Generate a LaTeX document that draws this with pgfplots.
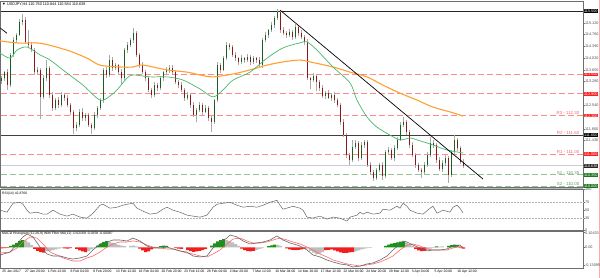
\documentclass[border=0pt]{standalone}
\usepackage{pgfplots}
\pgfplotsset{compat=1.18}
\usepackage{pgfplotstable}
\usepackage{fontspec}
\setmainfont{Liberation Sans}
\definecolor{bullc}{RGB}{25,95,35}
\definecolor{bearc}{RGB}{135,25,25}
\definecolor{wickc}{RGB}{170,170,170}
\definecolor{maA}{RGB}{70,185,110}
\definecolor{maB}{RGB}{255,160,50}
\definecolor{lred}{RGB}{255,140,140}
\definecolor{lgreen}{RGB}{150,195,150}
\definecolor{tred}{RGB}{245,105,105}
\definecolor{tgreen}{RGB}{95,160,95}
\definecolor{lblred}{RGB}{250,30,30}
\definecolor{lblgreen}{RGB}{25,120,25}
\definecolor{curc}{RGB}{200,205,215}
\definecolor{framec}{RGB}{110,110,110}
\definecolor{hgreen}{RGB}{20,150,20}
\definecolor{hred}{RGB}{240,30,30}
\definecolor{hgray}{RGB}{190,190,190}
\newcommand\fa{\fontsize{3.8}{4}\selectfont}
\newcommand\fd{\fontsize{3.4}{4}\selectfont}
\newcommand\fr{\fontsize{4.4}{5}\selectfont}

\pgfplotstableread{
x o h l c
1.5 113.30 113.47 113.22 113.39
4.5 113.39 113.63 113.30 113.58
7.5 113.58 113.68 113.02 113.17
10.5 113.17 114.18 113.10 114.12
13.5 114.12 114.67 114.06 114.59
16.5 114.59 114.80 114.50 114.75
19.5 114.75 115.25 114.70 115.15
22.5 115.15 115.40 115.05 115.22
25.5 115.22 115.30 114.47 114.53
28.5 114.53 114.90 114.34 114.43
31.5 114.43 114.53 114.22 114.27
34.5 114.27 114.33 113.48 113.58
37.5 113.58 113.73 113.52 113.65
40.5 113.65 113.70 112.10 112.80
43.5 112.80 113.49 112.74 113.39
46.5 113.39 113.96 113.30 113.71
49.5 113.71 113.77 112.76 112.86
52.5 112.86 112.94 112.36 112.45
55.5 112.45 112.78 112.38 112.70
58.5 112.70 112.80 112.45 112.55
61.5 112.55 112.96 112.49 112.86
64.5 112.86 112.93 112.68 112.77
67.5 112.77 112.85 112.49 112.55
70.5 112.55 112.61 112.23 112.33
73.5 112.33 112.40 111.64 111.82
76.5 111.82 112.02 111.73 111.92
79.5 111.92 112.41 111.86 112.33
82.5 112.33 112.44 112.05 112.14
85.5 112.14 112.29 112.04 112.23
88.5 112.23 112.31 111.86 111.92
91.5 111.92 111.97 111.64 111.82
94.5 111.82 112.33 111.76 112.23
97.5 112.23 112.51 112.14 112.45
100.5 112.45 112.78 112.40 112.70
103.5 112.70 113.70 112.61 113.65
106.5 113.65 113.75 113.39 113.49
109.5 113.49 114.12 113.43 113.96
112.5 113.96 114.04 113.62 113.71
115.5 113.71 113.88 113.65 113.80
118.5 113.80 113.85 113.49 113.58
121.5 113.58 113.68 113.20 113.39
124.5 113.39 114.33 113.33 114.27
127.5 114.27 114.53 114.18 114.43
130.5 114.43 114.65 114.38 114.59
133.5 114.59 114.96 114.50 114.81
136.5 114.81 114.87 114.06 114.12
139.5 114.12 114.17 113.71 113.80
142.5 113.80 113.90 113.53 113.58
145.5 113.58 113.64 113.29 113.39
148.5 113.39 113.47 112.96 113.02
151.5 113.02 113.07 112.77 112.86
154.5 112.86 113.27 112.81 113.17
157.5 113.17 113.23 112.98 113.08
160.5 113.08 113.47 113.02 113.39
163.5 113.39 113.63 113.30 113.58
166.5 113.58 113.75 113.53 113.65
169.5 113.65 113.80 113.55 113.71
172.5 113.71 113.79 113.49 113.58
175.5 113.58 113.66 113.21 113.27
178.5 113.27 113.32 113.08 113.17
181.5 113.17 113.27 112.97 113.02
184.5 113.02 113.08 112.67 112.77
187.5 112.77 112.94 112.71 112.86
190.5 112.86 112.91 112.46 112.55
193.5 112.55 112.65 112.18 112.23
196.5 112.23 112.45 112.00 112.39
199.5 112.39 112.63 112.33 112.55
202.5 112.55 112.60 112.24 112.33
205.5 112.33 112.55 112.28 112.45
208.5 112.45 112.51 112.04 112.14
211.5 112.14 112.22 111.70 112.01
214.5 112.01 112.75 111.96 112.70
217.5 112.70 113.90 112.64 113.80
220.5 113.80 113.88 113.56 113.65
223.5 113.65 114.08 113.60 114.02
226.5 114.02 114.53 113.96 114.43
229.5 114.43 114.51 114.28 114.37
232.5 114.37 114.42 114.07 114.12
235.5 114.12 114.20 113.92 114.02
238.5 114.02 114.07 113.81 113.90
241.5 113.90 114.12 113.85 114.02
244.5 114.02 114.07 113.87 113.96
247.5 113.96 114.15 113.91 114.05
250.5 114.05 114.11 113.80 113.90
253.5 113.90 114.10 113.84 114.02
256.5 114.02 114.07 113.87 113.96
259.5 113.96 114.06 113.75 113.80
262.5 113.80 114.65 113.70 114.59
265.5 114.59 114.83 114.53 114.75
268.5 114.75 114.95 114.66 114.90
271.5 114.90 115.16 114.85 115.06
274.5 115.06 115.34 114.96 115.28
277.5 115.28 115.56 115.22 115.47
280.5 115.47 115.52 114.81 114.90
283.5 114.90 115.00 114.76 114.81
286.5 114.81 114.87 114.65 114.75
289.5 114.75 114.92 114.69 114.84
292.5 114.84 114.89 114.59 114.68
295.5 114.68 115.10 114.63 115.00
298.5 115.00 115.06 114.71 114.81
301.5 114.81 114.89 114.63 114.68
304.5 114.68 114.74 114.44 114.53
307.5 114.53 114.61 113.33 113.39
310.5 113.39 113.44 113.05 113.33
313.5 113.33 113.56 113.27 113.46
316.5 113.46 113.52 113.00 113.27
319.5 113.27 113.33 112.99 113.08
322.5 113.08 113.18 112.78 112.83
325.5 112.83 112.98 112.73 112.92
328.5 112.92 113.02 112.72 112.77
331.5 112.77 112.92 112.67 112.86
334.5 112.86 112.96 112.61 112.70
337.5 112.70 112.78 112.49 112.55
340.5 112.55 112.60 111.92 112.01
343.5 112.01 112.11 111.55 111.60
346.5 111.60 111.66 110.88 110.97
349.5 110.97 111.05 110.66 110.82
352.5 110.82 111.45 110.77 111.23
355.5 111.23 111.45 111.17 111.35
358.5 111.35 111.41 110.78 110.88
361.5 110.88 111.39 110.83 111.29
364.5 111.29 111.46 111.20 111.38
367.5 111.38 111.44 110.61 110.66
370.5 110.66 110.74 110.35 110.44
373.5 110.44 110.49 110.16 110.25
376.5 110.25 110.58 110.19 110.50
379.5 110.50 110.72 110.44 110.66
382.5 110.66 110.76 110.18 110.31
385.5 110.31 111.12 110.26 111.07
388.5 111.07 111.23 110.98 111.13
391.5 111.13 111.19 110.83 110.88
394.5 110.88 111.30 110.78 111.20
397.5 111.20 111.53 111.14 111.45
400.5 111.45 112.02 111.40 111.92
403.5 111.92 112.17 111.86 112.01
406.5 112.01 112.09 111.61 111.70
409.5 111.70 111.76 111.19 111.29
412.5 111.29 111.37 110.92 110.97
415.5 110.97 111.03 110.56 110.66
418.5 110.66 110.71 110.45 110.50
421.5 110.50 110.58 110.25 110.44
424.5 110.44 110.74 110.38 110.66
427.5 110.66 111.07 110.61 110.97
430.5 110.97 111.54 110.92 111.35
433.5 111.35 111.44 111.20 111.29
436.5 111.29 111.35 110.72 110.82
439.5 110.82 110.90 110.47 110.53
442.5 110.53 110.81 110.45 110.71
445.5 110.71 110.96 110.62 110.88
448.5 110.88 110.93 110.09 110.35
451.5 110.35 111.12 110.29 111.07
454.5 111.07 111.60 111.02 111.45
457.5 111.45 111.50 111.10 111.20
460.5 111.20 111.27 110.70 110.76
463.5 110.76 110.84 110.58 110.64
}\candles

\pgfplotstableread{
x y
0 114.18
10 114.02
17 114.27
27 114.37
40 114.12
50 113.96
67 113.55
83 113.17
100 112.70
110 112.83
117 113.02
127 113.39
133 113.49
150 113.43
167 113.43
183 113.33
200 113.05
213 112.80
223 113.02
233 113.33
250 113.58
267 114.02
283 114.34
300 114.50
307 114.53
317 114.27
333 113.74
350 113.24
357 112.70
367 112.17
377 111.85
390 111.60
400 111.45
410 111.51
417 111.45
433 111.29
447 111.13
463 111.04
}\maAtab

\pgfplotstableread{
x y
0 114.56
20 114.49
40 114.49
67 114.27
87 114.02
100 113.80
120 113.74
133 113.74
143 113.80
167 113.65
187 113.58
200 113.49
213 113.43
233 113.52
250 113.65
267 113.80
283 113.90
300 113.96
310 113.90
333 113.74
350 113.58
367 113.43
383 113.17
400 112.92
417 112.70
433 112.48
450 112.33
463 112.20
}\maBtab

\pgfplotstableread{
x y
0 49.5
7 44.6
13 66.6
20 69.0
23 64.1
27 49.5
30 42.2
37 44.6
43 39.8
47 39.8
53 49.5
60 39.8
67 34.9
73 39.8
80 32.4
87 30.0
93 42.2
100 61.7
103 64.1
110 54.4
117 56.8
123 61.7
127 64.1
133 66.6
137 54.4
143 47.1
150 39.8
157 42.2
163 52.0
167 56.8
173 49.5
180 44.6
187 37.3
193 34.9
200 32.4
207 37.3
213 56.8
217 64.1
223 66.6
230 69.0
237 61.7
243 56.8
250 59.3
257 56.8
263 61.7
270 69.0
277 73.9
280 61.7
283 52.0
290 56.8
293 59.3
300 54.4
303 49.5
307 32.4
313 30.0
320 34.9
327 27.6
333 32.4
340 30.0
347 22.7
350 32.4
357 37.3
360 44.6
363 39.8
367 44.6
373 39.8
380 42.2
383 52.0
390 49.5
397 59.3
400 54.4
403 66.6
407 59.3
410 49.5
417 42.2
423 39.8
430 54.4
433 59.3
437 42.2
443 49.5
450 44.6
453 56.8
457 61.7
460 54.4
463 42.9
}\rsitab

\pgfplotstableread{
x y
0 -0.055
10 -0.034
17 0.024
23 0.074
27 0.095
33 0.074
40 0.002
47 -0.048
53 -0.062
60 -0.062
67 -0.076
73 -0.084
80 -0.076
87 -0.062
93 -0.019
100 0.024
107 0.038
113 0.052
120 0.052
127 0.045
133 0.066
140 0.045
147 0.009
153 -0.005
160 -0.005
167 0.002
173 -0.012
180 -0.026
187 -0.034
193 -0.062
200 -0.069
207 -0.062
213 -0.005
220 0.038
227 0.066
230 0.088
237 0.074
243 0.045
250 0.024
257 0.031
263 0.038
270 0.052
277 0.081
283 0.052
290 0.031
297 0.016
300 0.009
307 -0.019
313 -0.055
320 -0.069
327 -0.091
333 -0.105
340 -0.119
347 -0.126
353 -0.141
360 -0.134
367 -0.119
373 -0.112
380 -0.091
387 -0.062
393 -0.019
400 0.024
403 0.045
407 0.038
413 0.016
420 -0.005
427 -0.026
433 -0.019
440 -0.019
447 -0.012
453 0.009
460 0.016
463 -0.005
}\macdtab

\pgfplotstableread{
x y
0 -0.041
10 -0.034
17 -0.005
23 0.038
30 0.074
37 0.066
43 0.024
50 -0.034
57 -0.055
63 -0.076
73 -0.098
80 -0.098
87 -0.076
93 -0.062
100 -0.034
107 0.002
113 0.024
120 0.038
127 0.038
133 0.045
140 0.038
147 0.016
153 0.002
160 -0.005
167 -0.012
173 -0.012
180 -0.026
187 -0.041
193 -0.048
200 -0.062
207 -0.069
213 -0.048
220 -0.019
227 0.024
233 0.059
240 0.066
247 0.045
253 0.031
260 0.031
267 0.038
273 0.052
280 0.066
287 0.052
293 0.038
300 0.024
307 0.002
313 -0.019
320 -0.048
327 -0.069
333 -0.091
340 -0.105
347 -0.119
353 -0.126
360 -0.134
367 -0.126
373 -0.119
380 -0.105
387 -0.084
393 -0.062
400 -0.019
407 0.016
413 0.024
420 0.009
427 -0.012
433 -0.019
440 -0.019
447 -0.019
453 -0.005
460 0.009
463 0.002
}\sigtab

\pgfplotstableread{
x y
10.5 0.010
13.5 0.020
16.5 0.032
19.5 0.045
22.5 0.052
97.5 0.012
100.5 0.025
103.5 0.038
106.5 0.045
160.5 0.008
163.5 0.012
166.5 0.010
211.5 0.012
214.5 0.028
217.5 0.042
220.5 0.052
223.5 0.058
268.5 0.008
271.5 0.014
274.5 0.020
385.5 0.010
388.5 0.020
391.5 0.026
394.5 0.030
397.5 0.036
400.5 0.040
403.5 0.042
436.5 0.006
448.5 0.010
451.5 0.015
454.5 0.020
457.5 0.018
}\hgreentab

\pgfplotstableread{
x y
25.5 0.048
28.5 0.035
31.5 0.018
46.5 -0.030
49.5 -0.025
52.5 -0.020
55.5 -0.014
58.5 -0.010
61.5 -0.006
88.5 -0.025
91.5 -0.015
94.5 -0.006
109.5 0.040
112.5 0.032
115.5 0.025
118.5 0.018
121.5 0.012
124.5 0.008
130.5 0.010
133.5 0.012
136.5 0.006
226.5 0.052
229.5 0.045
232.5 0.035
235.5 0.022
238.5 0.010
256.5 -0.018
259.5 -0.012
262.5 -0.006
277.5 0.018
280.5 0.010
307.5 -0.010
310.5 -0.025
313.5 -0.038
316.5 -0.050
319.5 -0.045
322.5 -0.035
355.5 -0.030
358.5 -0.022
361.5 -0.015
364.5 -0.010
367.5 -0.006
370.5 -0.004
406.5 0.035
409.5 0.022
412.5 0.010
427.5 -0.018
430.5 -0.010
433.5 -0.005
439.5 0.005
442.5 0.006
}\hgraytab

\pgfplotstableread{
x y
1.5 -0.008
4.5 -0.006
7.5 -0.004
34.5 -0.012
37.5 -0.025
40.5 -0.035
43.5 -0.038
64.5 -0.008
67.5 -0.010
70.5 -0.006
76.5 -0.012
79.5 -0.022
82.5 -0.030
85.5 -0.034
139.5 -0.010
142.5 -0.022
145.5 -0.035
148.5 -0.030
151.5 -0.015
154.5 -0.005
157.5 -0.004
175.5 -0.006
178.5 -0.010
181.5 -0.012
187.5 -0.020
190.5 -0.028
193.5 -0.032
196.5 -0.030
199.5 -0.026
202.5 -0.020
205.5 -0.012
241.5 -0.010
244.5 -0.020
247.5 -0.028
250.5 -0.030
253.5 -0.025
286.5 -0.008
289.5 -0.014
292.5 -0.018
295.5 -0.020
298.5 -0.018
301.5 -0.014
304.5 -0.010
325.5 -0.020
328.5 -0.018
331.5 -0.015
334.5 -0.022
337.5 -0.030
340.5 -0.036
343.5 -0.040
346.5 -0.040
349.5 -0.036
352.5 -0.032
415.5 -0.012
418.5 -0.022
421.5 -0.028
424.5 -0.025
460.5 -0.006
463.5 -0.010
}\hredtab

\pgfplotsset{panel/.style={anchor=south west, scale only axis, width=582.5pt,
  xmin=0.5, xmax=583, axis line style={draw=framec, line width=0.5pt},
  xtick=\empty, ytick pos=right, yticklabel pos=right, tick align=outside,
  major tick length=1.5pt, tick style={framec, line width=0.4pt},
  yticklabel style={font=\fa, text=black!70, inner sep=0.4pt},
  clip=false, /pgf/number format/assume math mode=true}}
\tikzset{lbl/.style={anchor=west, text=white, font=\fa, inner sep=0.45pt, minimum width=14.6pt}}

\begin{document}
\begin{tikzpicture}
\useasboundingbox (0,0) rectangle (600pt,278pt);
\fill[white] (0,0) rectangle (600pt,278pt);
\fill[gray!55] (0.5pt,88.6pt) rectangle (583pt,91pt);
\draw[red!35, line width=0.6pt] (599.6pt,0) -- (599.6pt,278pt);

% ---------------- main price panel
\begin{axis}[panel, at={(0.5pt,91pt)}, height=186pt, ymin=109.969, ymax=115.815,
  ytick={115.12,114.76,114.39,114.02,113.65,113.28,112.54,111.8,111.43},
  yticklabels={115.120,114.760,114.390,114.020,113.650,113.280,112.540,111.800,111.430}]
\addplot[curc, line width=1.4pt, forget plot] coordinates {(0.5,110.638) (583,110.638)};
\addplot[lred, line width=0.8pt, dash pattern=on 6pt off 3pt] coordinates {(0.5,113.5) (583,113.5)};
\addplot[lred, line width=0.8pt, dash pattern=on 6pt off 3pt] coordinates {(0.5,112.9) (583,112.9)};
\addplot[lred, line width=0.8pt, dash pattern=on 6pt off 3pt] coordinates {(0.5,112.21) (583,112.21)};
\addplot[lred, line width=0.8pt, dash pattern=on 6pt off 3pt] coordinates {(0.5,111.0) (583,111.0)};
\addplot[lgreen, line width=0.8pt, dash pattern=on 6pt off 3pt] coordinates {(0.5,110.35) (583,110.35)};
\addplot[lgreen, line width=0.8pt, dash pattern=on 6pt off 3pt] coordinates {(0.5,110.0) (583,110.0)};
\addplot[black!85, line width=0.8pt] coordinates {(0.5,115.5) (583,115.5)};
\addplot[black!75, line width=1.1pt] coordinates {(0.5,111.6) (583,111.6)};
% candles
\addplot[draw=none, mark=none, forget plot, error bars/.cd, y dir=plus, y explicit,
  error mark=none, error bar style={draw=wickc, line width=0.6pt, solid}]
  table[x=x, y=l, y error expr=\thisrow{h}-\thisrow{l}] {\candles};
\addplot[draw=none, mark=none, forget plot,
  restrict expr to domain={\thisrow{c}-\thisrow{o}}{0:10},
  error bars/.cd, y dir=plus, y explicit,
  error mark=none, error bar style={draw=bullc, line width=1.7pt, solid}]
  table[x=x, y=o, y error expr=\thisrow{c}-\thisrow{o}] {\candles};
\addplot[draw=none, mark=none, forget plot,
  restrict expr to domain={\thisrow{o}-\thisrow{c}}{0.0001:10},
  error bars/.cd, y dir=plus, y explicit,
  error mark=none, error bar style={draw=bearc, line width=1.7pt, solid}]
  table[x=x, y=c, y error expr=\thisrow{o}-\thisrow{c}] {\candles};
% moving averages and trend lines
\addplot[maB, line width=1.1pt, smooth] table {\maBtab};
\addplot[maA, line width=0.7pt, smooth] table {\maAtab};
\addplot[black, line width=0.7pt] coordinates {(280,115.53) (483,110.22)};
\addplot[black, line width=0.7pt] coordinates {(0.5,114.96) (7,114.80)};
% labels
\node[anchor=west, font=\fa, inner sep=0] at (axis cs:2,115.72) {▼ USDJPY,H4  110.760 110.844 110.584 110.638};
\node[anchor=south east, font=\fr, text=tred, inner sep=0.5pt] at (axis cs:580,112.21) {R3 - 112.30};
\node[anchor=south east, font=\fr, text=tred, inner sep=0.5pt] at (axis cs:580,111.6) {R2 - 111.60};
\node[anchor=south east, font=\fr, text=tred, inner sep=0.5pt] at (axis cs:580,111.0) {R1 - 111.00};
\node[anchor=south east, font=\fr, text=tgreen, inner sep=0.5pt] at (axis cs:580,110.35) {S1 - 110.35};
\node[anchor=south east, font=\fr, text=tgreen, inner sep=0.5pt] at (axis cs:580,110.0) {S2 - 110.00};
\node[lbl, fill=black] at (axis cs:583.3,115.5) {115.500};
\node[lbl, fill=lblred] at (axis cs:583.3,113.5) {113.500};
\node[lbl, fill=lblred] at (axis cs:583.3,112.9) {112.900};
\node[lbl, fill=lblred] at (axis cs:583.3,112.21) {112.300};
\node[lbl, fill=black] at (axis cs:583.3,111.6) {111.600};
\node[lbl, fill=lblred] at (axis cs:583.3,111.0) {111.000};
\node[lbl, fill=black!85] at (axis cs:583.3,110.638) {110.638};
\node[lbl, fill=lblgreen] at (axis cs:583.3,110.35) {110.350};
\node[lbl, fill=lblgreen] at (axis cs:583.3,110.0) {110.000};
\end{axis}

% ---------------- RSI panel
\begin{axis}[panel, at={(0.5pt,47.5pt)}, height=41.1pt, ymin=-0.5, ymax=100.7,
  ytick={0,30,50,70,100}]
\addplot[gray!60, densely dotted, line width=0.5pt] coordinates {(0.5,70) (583,70)};
\addplot[gray!60, densely dotted, line width=0.5pt] coordinates {(0.5,30) (583,30)};
\addplot[black!60, line width=0.5pt] table {\rsitab};
\node[anchor=west, font=\fd, inner sep=0] at (axis cs:2,91) {RSI(14) 42.8766};
\end{axis}

% ---------------- MACD panel
\begin{axis}[panel, at={(0.5pt,10pt)}, height=36.5pt, ymin=-0.1479, ymax=0.1129,
  ytick={-0.13095,0,0.10433}, yticklabels={-0.13095,0.00,0.10433},
  xtick={1.7,24.45,47.2,69.95,92.7,115.45,138.2,160.95,183.7,206.45,229.2,251.95,274.7,297.45,320.2,342.95,365.7,388.45,411.2,433.95,456.7},
  xticklabels={{25 Jan 2017},{27 Jan 20:00},{1 Feb 12:00},{6 Feb 04:00},{8 Feb 20:00},{13 Feb 12:00},{16 Feb 04:00},{20 Feb 20:00},{23 Feb 12:00},{28 Feb 04:00},{2 Mar 20:00},{7 Mar 12:00},{10 Mar 04:00},{14 Mar 20:00},{17 Mar 12:00},{22 Mar 04:00},{24 Mar 20:00},{29 Mar 12:00},{3 Apr 04:00},{5 Apr 20:00},{10 Apr 12:00}},
  xtick pos=bottom, xticklabel style={anchor=north west, font=\fd, inner sep=0.4pt, text=black}]
\addplot[ybar, bar width=3pt, bar shift=0pt, fill=hgreen, draw=none] table {\hgreentab};
\addplot[ybar, bar width=3pt, bar shift=0pt, fill=hgray, draw=none] table {\hgraytab};
\addplot[ybar, bar width=3pt, bar shift=0pt, fill=hred, draw=none] table {\hredtab};
\addplot[red!60, line width=0.6pt] table {\sigtab};
\addplot[black!60, line width=0.6pt] table {\macdtab};
\node[anchor=west, font=\fd, inner sep=0] at (axis cs:2,0.095) {MACD Histogram (12,26,9) With Filter MA(12) -0.02168 -0.0258 -0.00087};
\end{axis}
\end{tikzpicture}
\end{document}
